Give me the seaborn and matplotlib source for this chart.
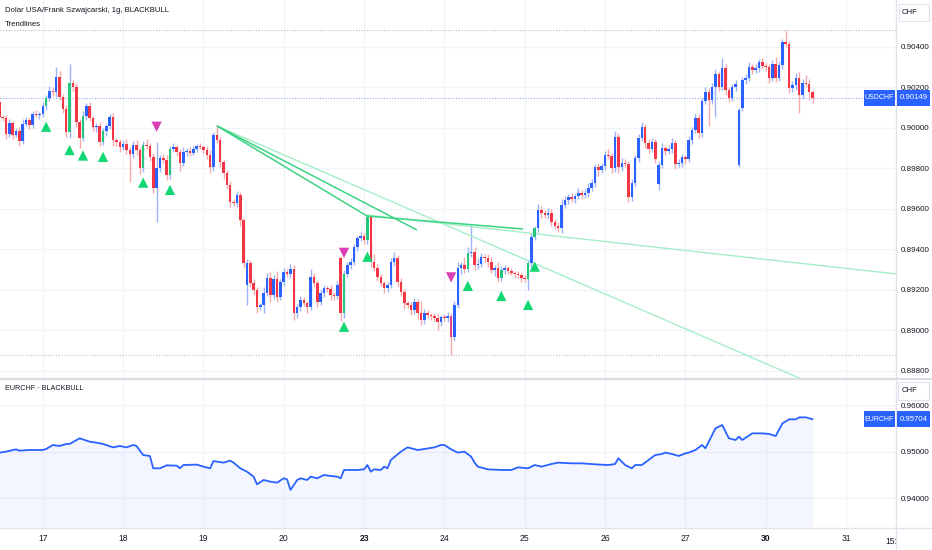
import numpy as np
import matplotlib
matplotlib.use("Agg")
import matplotlib.pyplot as plt
import seaborn as sns
from matplotlib.patches import Rectangle
from matplotlib.lines import Line2D
from matplotlib.transforms import Bbox, TransformedBbox, IdentityTransform, blended_transform_factory

sns.set_theme(style="white")
plt.rcParams["font.family"] = ["Liberation Sans", "DejaVu Sans"]

# ---------------- data (USDCHF hourly, index 0 = 17 00:00) ----------------
FIRST_HOUR = -13
close_pts = [
    90054, 90049, 89970, 90025, 89965, 89985, 89936, 90020, 90040, 90015,
    90069, 90064, 90069, 90109, 90148, 90183, 90178, 90252, 90153, 90094,
    89980, 90222, 90203, 90030, 89951, 90059, 90109, 90049, 90005, 90010,
    89931, 89985, 90010, 90054, 89941, 89931, 89906, 89921, 89891, 89872,
    89916, 89891, 89802, 89916, 89911, 89857, 89704, 89802, 89852, 89842,
    89768, 89896, 89906, 89881, 89827, 89881, 89886, 89876, 89896, 89911,
    89906, 89891, 89867, 89807, 89965, 89941, 89832, 89778, 89718, 89634,
    89629, 89669, 89546, 89333, 89333, 89234, 89200, 89116, 89126, 89185,
    89259, 89175, 89254, 89165, 89239, 89289, 89279, 89303, 89086, 89116,
    89150, 89135, 89116, 89264, 89234, 89140, 89185, 89210, 89205, 89175,
    89170, 89224, 89086, 89279, 89323, 89338, 89412, 89457, 89466, 89447,
    89560, 89338, 89308, 89264, 89234, 89210, 89224, 89338, 89358, 89239,
    89190, 89135, 89126, 89101, 89140, 89086, 89052, 89086, 89076, 89071,
    89061, 89042, 89066, 89061, 89071, 88968, 89126, 89308, 89323, 89303,
    89382, 89387, 89323, 89328, 89363, 89358, 89338, 89299, 89308, 89259,
    89299, 89308, 89294, 89284, 89279, 89274, 89259, 89254, 89333, 89462,
    89506, 89595, 89580, 89570, 89580, 89536, 89516, 89506, 89620, 89644,
    89659, 89649, 89664, 89679, 89669, 89679, 89704, 89728, 89807, 89793,
    89812, 89867, 89862, 89802, 89956, 89807, 89827, 89822, 89659, 89728,
    89852, 89951, 90005, 89926, 89896, 89931, 89847, 89817, 89901, 89886,
    89896, 89926, 89822, 89827, 89857, 89847, 89941, 89990, 90049, 89975,
    90133, 90178, 90138, 90203, 90267, 90203, 90296, 90188, 90148, 90203,
    90217, 90089, 90237, 90247, 90301, 90287, 90296, 90326, 90306, 90301,
    90247, 90316, 90247, 90311, 90425, 90415, 90198, 90212, 90247, 90163,
    90222, 90217, 90178, 90149,
]
# opens equal the previous close except for these gap bars
open_override = {-13: 90128, 61: 89224, 89: 89358, 184: 89723, 208: 89817, 209: 90099}
up_wick = [
    35, 10, 15, 20, 10, 15, 20, 25, 15, 10,
    15, 20, 10, 20, 15, 25, 20, 49, 30, 15,
    20, 94, 15, 20, 15, 25, 15, 20, 10, 15,
    20, 15, 10, 15, 20, 10, 15, 20, 25, 15,
    20, 25, 15, 20, 30, 15, 20, 129, 15, 20,
    25, 15, 20, 10, 15, 25, 15, 20, 15, 10,
    15, 10, 20, 25, 15, 50, 15, 10, 15, 20,
    15, 20, 15, 10, 20, 15, 20, 15, 10, 30,
    25, 30, 20, 40, 15, 20, 15, 25, 20, 15,
    20, 15, 10, 40, 20, 15, 20, 15, 10, 20,
    15, 20, 10, 20, 15, 20, 15, 10, 20, 15,
    15, 10, 40, 20, 15, 10, 15, 20, 30, 15,
    20, 15, 10, 15, 20, 15, 60, 20, 15, 10,
    15, 20, 10, 15, 20, 15, 20, 30, 15, 40,
    30, 134, 25, 30, 20, 15, 20, 25, 15, 30,
    20, 15, 10, 15, 10, 15, 10, 15, 20, 20,
    10, 30, 20, 15, 25, 20, 15, 20, 30, 20,
    15, 20, 10, 25, 15, 20, 25, 20, 15, 20,
    15, 20, 30, 15, 30, 20, 25, 20, 15, 20,
    15, 20, 25, 15, 20, 20, 15, 20, 25, 15,
    20, 25, 15, 20, 15, 10, 20, 15, 25, 20,
    15, 25, 20, 20, 25, 15, 50, 20, 15, 15,
    20, 10, 15, 20, 25, 15, 20, 15, 20, 15,
    15, 20, 34, 20, 15, 59, 15, 20, 25, 30,
    20, 40, 25, 10,
]
down_wick = [
    20, 15, 25, 15, 20, 10, 25, 15, 10, 20,
    15, 10, 20, 15, 20, 15, 20, 25, 15, 20,
    25, 29, 20, 25, 50, 15, 20, 15, 20, 25,
    20, 15, 25, 15, 30, 20, 25, 15, 20, 139,
    20, 25, 30, 20, 15, 20, 25, 168, 20, 15,
    25, 20, 15, 20, 40, 15, 20, 15, 10, 15,
    10, 15, 20, 30, 20, 15, 25, 30, 20, 25,
    15, 20, 30, 25, 98, 20, 25, 30, 15, 40,
    15, 35, 20, 25, 15, 20, 15, 20, 35, 25,
    20, 15, 30, 15, 20, 25, 15, 20, 15, 25,
    20, 15, 40, 25, 15, 20, 15, 20, 15, 20,
    20, 25, 15, 20, 15, 25, 20, 15, 20, 25,
    20, 30, 15, 25, 20, 30, 25, 20, 15, 20,
    15, 40, 20, 15, 20, 89, 20, 15, 30, 20,
    15, 20, 25, 20, 15, 20, 25, 15, 30, 20,
    15, 20, 15, 10, 20, 15, 20, 15, 54, 20,
    15, 20, 25, 15, 20, 20, 15, 20, 25, 15,
    20, 15, 20, 15, 20, 15, 20, 15, 20, 30,
    15, 20, 15, 25, 20, 30, 20, 15, 25, 20,
    15, 20, 15, 25, 20, 15, 20, 30, 15, 20,
    15, 20, 25, 15, 20, 25, 15, 20, 15, 25,
    20, 15, 130, 20, 150, 20, 15, 25, 20, 15,
    20, 10, 15, 20, 15, 20, 15, 20, 15, 20,
    25, 15, 20, 15, 20, 15, 25, 20, 25, 89,
    20, 15, 40, 25,
]
green_bars = [1, 8, 12, 18, 30, 38, 90, 97, 127, 137, 145, 147]
pink_bars = [122]
buy_hours = [1, 8, 12, 18, 30, 38, 90, 97, 127, 137, 145, 147]
buy_prices = [0.90006, 0.89891, 0.89864, 0.89857, 0.89730, 0.89694,
              0.89018, 0.89364, 0.89220, 0.89170, 0.89126, 0.89315]
sell_hours = [34, 90, 122]
sell_prices = [0.90006, 0.89383, 0.89262]

# trendlines (start hour, start price, end hour, end price)
trend_dark = [(52.05, 0.90010, 96.9, 0.89565),
              (52.05, 0.90010, 111.8, 0.89496),
              (96.9, 0.89565, 143.5, 0.89501)]
trend_light = [(52.05, 0.90010, 254.9, 0.88558),
               (96.9, 0.89570, 254.9, 0.89279)]

# EURCHF line (hour index, price in 1e-5)
eur_hour = [-13, -11, -8, -7, -4, 0, 1, 3, 5, 7, 8, 11, 14, 16, 18, 21, 23, 25, 27, 28,
            30, 32, 33, 35, 37, 40, 41, 42, 46, 48, 50, 51, 54, 56, 57, 59, 61, 63, 64, 66,
            68, 70, 72, 73, 74, 76, 77, 79, 80, 82, 84, 86, 88, 89, 90, 94, 96, 97, 98, 99,
            101, 102, 103, 104, 107, 109, 112, 114, 117, 119, 120, 122, 124, 126, 128, 129,
            130, 133, 137, 140, 142, 145, 147, 149, 152, 154, 158, 161, 165, 169, 171, 172,
            174, 176, 177, 179, 181, 183, 185, 186, 188, 190, 192, 193, 195, 197, 198, 200,
            201, 203, 205, 207, 208, 209, 212, 215, 217, 219, 221, 223, 225, 226, 228, 230]
eur_pts = [94986, 95007, 95057, 95029, 95043, 95043, 95064, 95150, 95129, 95172, 95172,
           95294, 95222, 95201, 95172, 95100, 95129, 95100, 95150, 95129, 94935, 94914,
           94649, 94649, 94713, 94706, 94649, 94720, 94728, 94685, 94649, 94806, 94771,
           94814, 94771, 94649, 94577, 94470, 94305, 94398, 94362, 94341, 94434, 94412,
           94183, 94398, 94434, 94398, 94470, 94434, 94506, 94484, 94470, 94434, 94613,
           94613, 94627, 94720, 94577, 94627, 94613, 94685, 94649, 94828, 95007, 95100,
           95043, 95064, 95100, 95150, 95150, 95057, 94986, 95007, 94900, 94771, 94685,
           94627, 94613, 94613, 94670, 94649, 94720, 94685, 94742, 94771, 94756, 94756,
           94735, 94720, 94742, 94864, 94720, 94649, 94720, 94720, 94828, 94935, 94957,
           94986, 94957, 94914, 94971, 94986, 95043, 95150, 95079, 95366, 95509, 95580,
           95294, 95258, 95330, 95258, 95401, 95401, 95387, 95344, 95616, 95702, 95702,
           95745, 95745, 95704]

day_ticks = [0, 24, 48, 72, 96, 120, 144, 168, 192, 216, 240]
day_labels = ["17", "18", "19", "20", "23", "24", "25", "26", "27", "30", "31"]
bold_days = ["23", "30"]
main_ticks = [0.888, 0.890, 0.892, 0.894, 0.896, 0.898, 0.900, 0.902, 0.904]
sub_ticks = [0.94, 0.95, 0.96]

# ---------------- derived OHLC ----------------
close = np.array(close_pts) / 1e5
n = len(close)
hours = np.arange(FIRST_HOUR, FIRST_HOUR + n)
opens = np.empty(n)
opens[0] = close[0]
opens[1:] = close[:-1]
for h, v in open_override.items():
    opens[h - FIRST_HOUR] = v / 1e5
upw = np.array(up_wick[:n]) / 1e5
dnw = np.array(down_wick[:n]) / 1e5
highs = np.maximum(opens, close) + upw
lows = np.minimum(opens, close) - dnw

UP, DOWN = "#2962FF", "#F23645"
UPW, DOWNW = "#9DB4FB", "#F7A9AC"
GREEN_BODY, PINK_BODY = "#22C77A", "#E8468C"
body_cols, wick_cols = [], []
for i, h in enumerate(hours):
    up = close[i] >= opens[i]
    wick_cols.append(UPW if up else DOWNW)
    if h in green_bars:
        body_cols.append(GREEN_BODY)
    elif h in pink_bars:
        body_cols.append(PINK_BODY)
    else:
        body_cols.append(UP if up else DOWN)

# ---------------- figure ----------------
W, H = 932, 550
fig = plt.figure(figsize=(W / 100, H / 100), dpi=100)
fig.patch.set_facecolor("white")

def fx(px):
    return px / W

def fy(py):
    return 1 - py / H

PANE_R = 896
ax1 = fig.add_axes([0, fy(378), fx(PANE_R), (378) / H])
ax2 = fig.add_axes([0, fy(527), fx(PANE_R), (527 - 380) / H])

x_lo = -42.8 / 3.3467
x_hi = (PANE_R - 42.8) / 3.3467
GRID = "#F0F3FA"
TXT = "#131722"
FS = 5.8

for ax in (ax1, ax2):
    ax.set_facecolor("white")
    for s in ax.spines.values():
        s.set_visible(False)
    ax.set_xlim(x_lo, x_hi)
    for t in day_ticks:
        ax.axvline(t, color=GRID, lw=0.9, zorder=0)

ax1.set_ylim(0.88765, 0.90632)
ax2.set_ylim(0.93387, 0.96548)

for t in main_ticks:
    ax1.axhline(t, color=GRID, lw=0.9, zorder=0)
for t in sub_ticks:
    ax2.axhline(t, color=GRID, lw=0.9, zorder=0)

# candles
ax1.vlines(hours, lows, highs, colors=wick_cols, lw=1.0, zorder=2)
body_h = np.maximum(np.abs(close - opens), 0.000025)
ax1.bar(hours, body_h, bottom=np.minimum(opens, close), width=0.76,
        color=body_cols, linewidth=0, zorder=3)

# visible range high / low dotted lines and last price line
ax1.axhline(highs.max(), color="#B8BBC4", lw=0.8, ls=(0, (1, 1.5)), zorder=1)
ax1.axhline(lows.min(), color="#B8BBC4", lw=0.8, ls=(0, (1, 1.5)), zorder=1)
ax1.axhline(close[-1], color="#8EA8F6", lw=0.8, ls=(0, (1, 1.5)), zorder=1)

# trendlines
for x0, y0, x1, y1 in trend_dark:
    ax1.plot([x0, x1], [y0, y1], color="#3CD383", lw=1.1, zorder=2.5, solid_capstyle="butt")
for x0, y0, x1, y1 in trend_light:
    ax1.plot([x0, x1], [y0, y1], color="#A6EEC8", lw=1.0, zorder=2.4, solid_capstyle="butt")

# signal triangles
sns.scatterplot(x=buy_hours, y=buy_prices, marker="^", s=55, color="#12D873",
                edgecolor="none", ax=ax1, zorder=5, legend=False)
sns.scatterplot(x=sell_hours, y=sell_prices, marker="v", s=55, color="#D83FB5",
                edgecolor="none", ax=ax1, zorder=5, legend=False)

# EURCHF pane
eur = np.array(eur_pts[:len(eur_hour)]) / 1e5
eh = np.array(eur_hour[:len(eur)])
ax2.fill_between(eh, eur, 0.93387, color="#2962FF", alpha=0.05, linewidth=0, zorder=1)
sns.lineplot(x=eh, y=eur, ax=ax2, color="#2962FF", lw=1.3, zorder=3)

# axis ticks
for ax, ticks in ((ax1, main_ticks), (ax2, sub_ticks)):
    ax.yaxis.tick_right()
    ax.set_yticks(ticks)
    ax.set_yticklabels([f"{t:.5f}" for t in ticks])
    ax.tick_params(axis="y", length=0, pad=3.5, labelsize=FS, labelcolor=TXT)
    ax.set_ylabel("")
    ax.set_xlabel("")
ax1.set_xticks([])
ax2.set_xticks(day_ticks)
ax2.set_xticklabels(day_labels)
ax2.tick_params(axis="x", length=0, pad=5, labelsize=6.2, labelcolor=TXT)
for lab in ax2.get_xticklabels():
    if lab.get_text() in bold_days:
        lab.set_fontweight("bold")

# time label cut by the price scale
t15 = ax2.text(255, -0.07, "15:00", transform=blended_transform_factory(ax2.transData, ax2.transAxes),
               ha="center", va="top", fontsize=6.2, color=TXT, clip_on=True)
t15.set_clip_box(TransformedBbox(Bbox.from_extents(0, 0, PANE_R, H), IdentityTransform()))

# frame lines
LINE = "#E0E3EB"
fig.add_artist(Line2D([fx(PANE_R), fx(PANE_R)], [0, 1], color=LINE, lw=1.0, transform=fig.transFigure))
fig.add_artist(Line2D([0, 1], [fy(379), fy(379)], color="#D9DCE3", lw=1.6, transform=fig.transFigure))
fig.add_artist(Line2D([0, 1], [fy(527.5), fy(527.5)], color=LINE, lw=1.0, transform=fig.transFigure))

# titles
fig.text(fx(5), fy(10), "Dolar USA/Frank Szwajcarski, 1g, BLACKBULL", fontsize=5.6, color=TXT,
         ha="left", va="center")
fig.text(fx(5), fy(24), "Trendlines", fontsize=5.6, color=TXT, ha="left", va="center")
fig.text(fx(5), fy(389), "EURCHF · BLACKBULL", fontsize=5.2, color=TXT, ha="left", va="center")

# CHF boxes
for (x0, y0, x1, y1) in [(899, 4, 929, 21), (898, 382, 929, 400)]:
    fig.add_artist(Rectangle((fx(x0), fy(y1)), fx(x1 - x0), (y1 - y0) / H, transform=fig.transFigure,
                             facecolor="white", edgecolor=LINE, lw=0.8, zorder=10))
    fig.text(fx((x0 + x1) / 2 - 4), fy((y0 + y1) / 2), "CHF", fontsize=5.6, color=TXT,
             ha="center", va="center", zorder=11)

# last value tags
def tag(ax, value, name, y_half=8):
    disp = ax.transData.transform((0, value))
    yc = fig.transFigure.inverted().transform(disp)[1]
    h = 2 * y_half / H
    fig.add_artist(Rectangle((fx(864), yc - h / 2), fx(31), h, transform=fig.transFigure,
                             facecolor="#2962FF", edgecolor="none", zorder=10))
    fig.add_artist(Rectangle((fx(897), yc - h / 2), fx(33), h, transform=fig.transFigure,
                             facecolor="#2962FF", edgecolor="none", zorder=10))
    fig.text(fx(879.5), yc, name, fontsize=5.0, color="white", ha="center", va="center", zorder=11)
    fig.text(fx(913.5), yc, f"{value:.5f}", fontsize=5.6, color="white", ha="center", va="center", zorder=11)

tag(ax1, close[-1], "USDCHF")
tag(ax2, eur[-1], "EURCHF")

fig.savefig("out.png", dpi=100, facecolor="white")
